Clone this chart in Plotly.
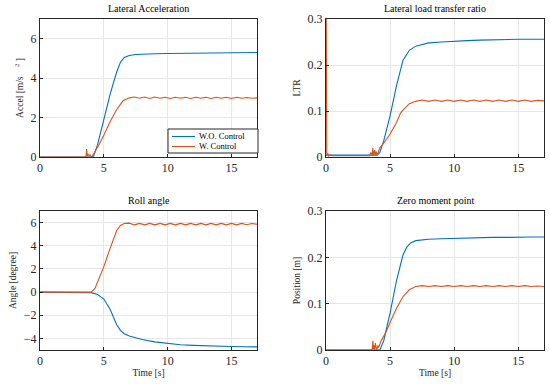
import plotly.graph_objects as go

BLUE = "#0072BD"
ORANGE = "#D95319"

# Lateral acceleration
acc_t_wo = [0, 4.0, 4.2, 4.5, 5.0, 5.5, 6.0, 6.3, 6.6, 7.0, 7.5, 8.0, 9.0, 10.0, 11.0, 12.0, 13.0, 14.0, 15.0, 16.0, 17.0]
acc_wo = [0, 0, 0.05, 0.6, 1.9, 3.2, 4.3, 4.8, 5.05, 5.15, 5.2, 5.22, 5.24, 5.25, 5.26, 5.27, 5.28, 5.29, 5.3, 5.3, 5.3]
acc_t_w = [0, 3.6, 3.65, 3.7, 3.75, 3.85, 3.9, 4.0, 4.1, 4.3, 4.6, 5.0, 5.5, 6.0, 6.5, 7.0, 7.4, 7.8, 8.2, 8.6, 9.0, 9.4, 9.8, 10.2, 10.6, 11.0, 11.4, 11.8, 12.2, 12.6, 13.0, 13.4, 13.8, 14.2, 14.6, 15.0, 15.4, 15.8, 16.2, 16.6, 17.0]
acc_w = [0, 0, 0.4, 0.05, 0.15, 0.05, 0.12, 0.02, 0.05, 0.25, 0.6, 1.1, 1.8, 2.4, 2.85, 3.0, 3.04, 2.98, 3.04, 2.97, 3.04, 2.98, 3.03, 2.97, 3.03, 2.98, 3.03, 2.97, 3.03, 2.98, 3.03, 2.97, 3.03, 2.98, 3.03, 2.97, 3.03, 2.98, 3.02, 2.98, 3.0]

# Lateral load transfer ratio
ltr_t_wo = [0, 4.0, 4.2, 4.5, 5.0, 5.5, 6.0, 6.5, 7.0, 7.5, 8.0, 9.0, 10.0, 11.0, 12.0, 13.0, 14.0, 15.0, 16.0, 17.0]
ltr_wo = [0.004, 0.004, 0.01, 0.035, 0.09, 0.155, 0.21, 0.232, 0.241, 0.245, 0.248, 0.25, 0.252, 0.253, 0.254, 0.255, 0.255, 0.256, 0.256, 0.256]
ltr_t_w = [0, 0.02, 0.06, 0.1, 0.15, 0.2, 0.3, 0.5, 3.4, 3.5, 3.6, 3.65, 3.7, 3.8, 3.85, 3.9, 4.0, 4.2, 4.5, 5.0, 5.5, 5.8, 6.0, 6.5, 7.0, 7.5, 8.0, 8.5, 9.0, 9.5, 10.0, 10.5, 11.0, 11.5, 12.0, 12.5, 13.0, 13.5, 14.0, 14.5, 15.0, 15.5, 16.0, 16.5, 17.0]
ltr_w = [0.3, 0.3, 0.01, 0.003, 0.008, 0.002, 0.004, 0.003, 0.003, 0.01, 0.003, 0.02, 0.004, 0.015, 0.003, 0.012, 0.005, 0.02, 0.03, 0.05, 0.075, 0.095, 0.102, 0.116, 0.121, 0.124, 0.121, 0.124, 0.121, 0.124, 0.121, 0.124, 0.121, 0.124, 0.121, 0.124, 0.121, 0.124, 0.121, 0.124, 0.121, 0.124, 0.121, 0.123, 0.122]

# Roll angle
roll_t_wo = [0, 3.8, 4.0, 4.5, 5.0, 5.5, 5.8, 6.0, 6.3, 6.6, 7.0, 7.5, 8.0, 9.0, 10.0, 11.0, 12.0, 13.0, 14.0, 15.0, 16.0, 17.0]
roll_wo = [0, 0, -0.05, -0.2, -0.6, -1.5, -2.3, -2.8, -3.3, -3.6, -3.8, -3.95, -4.1, -4.3, -4.45, -4.55, -4.6, -4.65, -4.68, -4.7, -4.72, -4.73]
roll_t_w = [0, 4.0, 4.3, 5.0, 5.5, 6.0, 6.3, 6.6, 7.0, 7.4, 7.8, 8.2, 8.6, 9.0, 9.4, 9.8, 10.2, 10.6, 11.0, 11.4, 11.8, 12.2, 12.6, 13.0, 13.4, 13.8, 14.2, 14.6, 15.0, 15.4, 15.8, 16.2, 16.6, 17.0]
roll_w = [0, 0, 0.3, 2.2, 3.8, 5.3, 5.75, 5.92, 5.95, 5.8, 5.93, 5.8, 5.93, 5.8, 5.93, 5.8, 5.93, 5.8, 5.93, 5.8, 5.93, 5.8, 5.93, 5.8, 5.93, 5.8, 5.93, 5.8, 5.93, 5.8, 5.93, 5.82, 5.92, 5.85]

# Zero moment point
zmp_t_wo = [0, 4.2, 4.5, 5.0, 5.5, 6.0, 6.3, 6.6, 7.0, 7.5, 8.0, 9.0, 10.0, 11.0, 12.0, 13.0, 14.0, 15.0, 16.0, 17.0]
zmp_wo = [0, 0, 0.02, 0.08, 0.15, 0.205, 0.222, 0.231, 0.236, 0.238, 0.239, 0.24, 0.241, 0.242, 0.242, 0.243, 0.243, 0.244, 0.244, 0.244]
zmp_t_w = [0, 3.6, 3.65, 3.7, 3.75, 3.8, 3.85, 3.95, 4.05, 4.1, 4.3, 4.7, 5.0, 5.5, 6.0, 6.5, 7.0, 7.5, 8.0, 8.5, 9.0, 9.5, 10.0, 10.5, 11.0, 11.5, 12.0, 12.5, 13.0, 13.5, 14.0, 14.5, 15.0, 15.5, 16.0, 16.5, 17.0]
zmp_w = [0, 0, 0.02, 0.002, 0.01, 0.0, 0.015, 0.0, 0.01, 0.005, 0.02, 0.04, 0.06, 0.09, 0.115, 0.13, 0.137, 0.139, 0.137, 0.139, 0.137, 0.139, 0.137, 0.139, 0.137, 0.139, 0.137, 0.139, 0.137, 0.139, 0.137, 0.139, 0.137, 0.139, 0.137, 0.138, 0.137]

x_ticks = [0, 5, 10, 15]
legend_names = ["W.O. Control", "W. Control"]

W, H = 550, 385
def px_x(a, b):
    return [a / W, b / W]
def px_y(top, bottom):
    return [1 - bottom / H, 1 - top / H]
def fx(a):
    return a / W
def fy(top):
    return 1 - top / H

panels = [
    dict(xd=px_x(40, 257), yd=px_y(19, 157), yr=[0, 7], yt=[0, 2, 4, 6], title="Lateral Acceleration",
         ylab="Accel [m/s    <sup>2</sup> ]", xlab=None,
         data=[(acc_t_wo, acc_wo, BLUE), (acc_t_w, acc_w, ORANGE)]),
    dict(xd=px_x(326, 544), yd=px_y(19, 157), yr=[0, 0.3], yt=[0, 0.1, 0.2, 0.3], title="Lateral load transfer ratio",
         ylab="LTR", xlab=None,
         data=[(ltr_t_wo, ltr_wo, BLUE), (ltr_t_w, ltr_w, ORANGE)]),
    dict(xd=px_x(40, 257), yd=px_y(211, 350), yr=[-5, 7], yt=[-4, -2, 0, 2, 4, 6], title="Roll angle",
         ylab="Angle [degree]", xlab="Time [s]",
         data=[(roll_t_wo, roll_wo, BLUE), (roll_t_w, roll_w, ORANGE)]),
    dict(xd=px_x(326, 544), yd=px_y(211, 350), yr=[0, 0.3], yt=[0, 0.1, 0.2, 0.3], title="Zero moment point",
         ylab="Position [m]", xlab="Time [s]",
         data=[(zmp_t_wo, zmp_wo, BLUE), (zmp_t_w, zmp_w, ORANGE)]),
]

fig = go.Figure()
layout = {}
annotations = []
shapes = []
TICKFONT = dict(family="Liberation Serif", size=12, color="#262626")
LABFONT = dict(family="Liberation Serif", size=9.5, color="#262626")

for i, p in enumerate(panels):
    n = "" if i == 0 else str(i + 1)
    xa, ya = "x" + n, "y" + n
    for t, v, c in p["data"]:
        fig.add_trace(go.Scatter(x=t, y=v, mode="lines", line=dict(color=c, width=1.1),
                                 showlegend=False, xaxis=xa, yaxis=ya, hoverinfo="skip"))
    xaxis = dict(domain=p["xd"], range=[0, 17], tickvals=x_ticks, anchor=ya, automargin=False,
                 showline=True, linecolor="#262626", linewidth=1, mirror=True,
                 ticks="inside", ticklen=3, tickcolor="#262626",
                 showgrid=True, gridcolor="#e6e6e6", zeroline=False,
                 tickfont=TICKFONT)
    if p["xlab"]:
        xaxis["title"] = dict(text=p["xlab"], font=LABFONT, standoff=1)
    layout["xaxis" + n] = xaxis
    layout["yaxis" + n] = dict(domain=p["yd"], range=p["yr"], tickvals=p["yt"], anchor=xa, automargin=False,
                               showline=True, linecolor="#262626", linewidth=1, mirror=True,
                               ticks="inside", ticklen=3, tickcolor="#262626",
                               showgrid=True, gridcolor="#e6e6e6", zeroline=False,
                               tickfont=TICKFONT,
                               title=dict(text=p["ylab"], font=LABFONT, standoff=5))
    xc = (p["xd"][0] + p["xd"][1]) / 2
    annotations.append(dict(text=p["title"], x=xc, y=p["yd"][1], xref="paper", yref="paper",
                            xanchor="center", yanchor="bottom", yshift=3, showarrow=False,
                            font=dict(family="Liberation Serif", size=10, color="#000000")))

# manual legend box (plotly's legend rows are too tall for this compact MATLAB legend)
shapes.append(dict(type="rect", xref="paper", yref="paper", x0=fx(168), x1=fx(258), y0=fy(153), y1=fy(129),
                   line=dict(color="#262626", width=1), fillcolor="white", layer="above"))
for k, (nm, c) in enumerate(zip(legend_names, [BLUE, ORANGE])):
    yy = fy(136.5 + k * 10)
    shapes.append(dict(type="line", xref="paper", yref="paper", x0=fx(172), x1=fx(195), y0=yy, y1=yy,
                       line=dict(color=c, width=1.1), layer="above"))
    annotations.append(dict(text=nm, x=fx(197), y=yy, xref="paper", yref="paper", xanchor="left",
                            yanchor="middle", showarrow=False,
                            font=dict(family="Liberation Serif", size=8.5, color="#000000")))

fig.update_layout(**layout)
fig.update_layout(
    width=W, height=H, margin=dict(l=0, r=0, t=0, b=0),
    paper_bgcolor="white", plot_bgcolor="white",
    annotations=annotations, shapes=shapes, showlegend=False,
)
fig.write_html("out.html", config={"displayModeBar": False},
               post_script="document.body.style.margin='0';document.body.style.overflow='hidden';")
